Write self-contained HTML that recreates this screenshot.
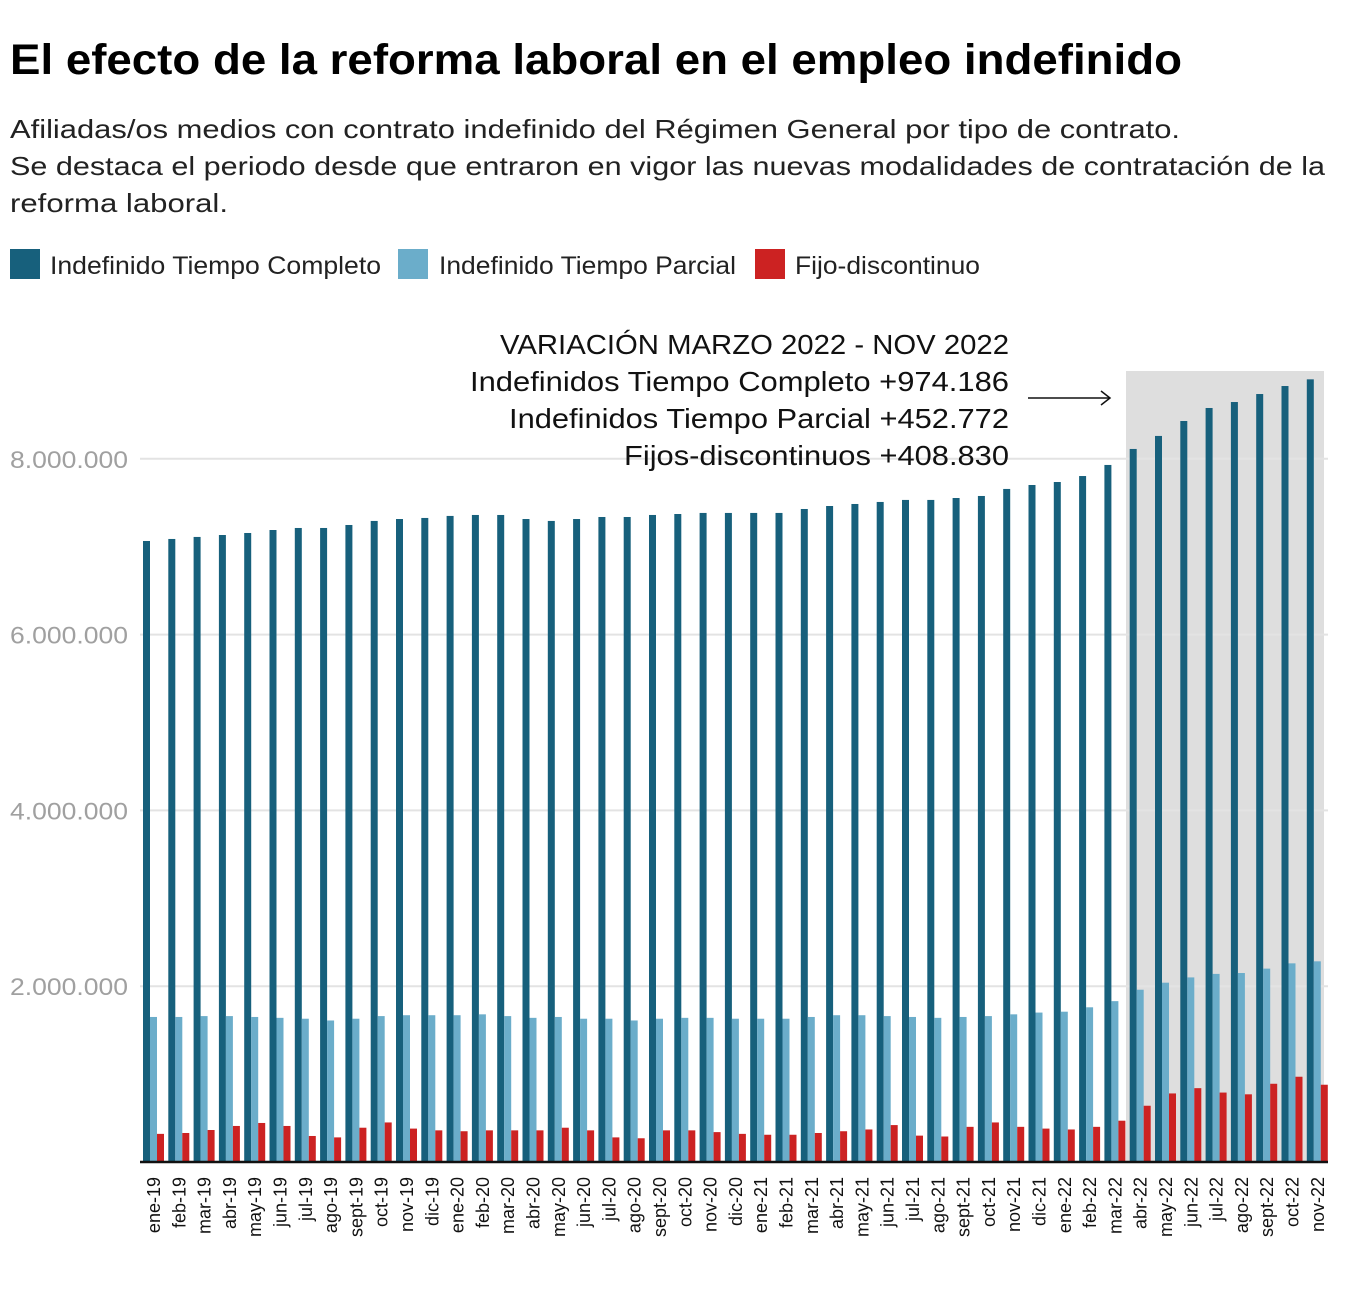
<!DOCTYPE html>
<html><head><meta charset="utf-8"><style>
body{margin:0;background:#fff}
svg{display:block;font-family:"Liberation Sans",sans-serif}
</style></head><body>
<svg id="chart" width="1348" height="1298" viewBox="0 0 1348 1298" xmlns="http://www.w3.org/2000/svg">
<text x="10" y="74" font-size="43" font-weight="bold" fill="#000" textLength="1172" lengthAdjust="spacingAndGlyphs">El efecto de la reforma laboral en el empleo indefinido</text>
<g font-size="26" fill="#222">
<text x="10" y="138" textLength="1170" lengthAdjust="spacingAndGlyphs">Afiliadas/os medios con contrato indefinido del Régimen General por tipo de contrato.</text>
<text x="10" y="175" textLength="1315" lengthAdjust="spacingAndGlyphs">Se destaca el periodo desde que entraron en vigor las nuevas modalidades de contratación de la</text>
<text x="10" y="212" textLength="218" lengthAdjust="spacingAndGlyphs">reforma laboral.</text>
</g>
<g font-size="25" fill="#222">
<rect x="10" y="249" width="30" height="30" fill="#17607c"/>
<text x="50" y="274" textLength="331" lengthAdjust="spacingAndGlyphs">Indefinido Tiempo Completo</text>
<rect x="398" y="249" width="30" height="30" fill="#6badca"/>
<text x="439" y="274" textLength="297" lengthAdjust="spacingAndGlyphs">Indefinido Tiempo Parcial</text>
<rect x="755" y="249" width="30" height="30" fill="#cc2222"/>
<text x="795" y="274" textLength="185" lengthAdjust="spacingAndGlyphs">Fijo-discontinuo</text>
</g>
<rect x="1126" y="371" width="198" height="791" fill="#dedede"/>
<g id="grid"></g>
<g id="bars"></g>
<g id="xlabels"></g>
<line x1="140" y1="1162" x2="1328" y2="1162" stroke="#111" stroke-width="2.5"/>
<g font-size="28" fill="#111">
<text x="500" y="354" textLength="509" lengthAdjust="spacingAndGlyphs">VARIACIÓN MARZO 2022 - NOV 2022</text>
<text x="470" y="391" textLength="539" lengthAdjust="spacingAndGlyphs">Indefinidos Tiempo Completo +974.186</text>
<text x="509" y="428" textLength="500" lengthAdjust="spacingAndGlyphs">Indefinidos Tiempo Parcial +452.772</text>
<text x="624" y="465" textLength="385" lengthAdjust="spacingAndGlyphs">Fijos-discontinuos +408.830</text>
</g>
<g stroke="#111" stroke-width="1.5" fill="none">
<line x1="1028" y1="398" x2="1110" y2="398"/>
<polyline points="1101,391 1110,398 1101,405"/>
</g>
</svg>
<script>
const months=["ene-19","feb-19","mar-19","abr-19","may-19","jun-19","jul-19","ago-19","sept-19","oct-19","nov-19","dic-19","ene-20","feb-20","mar-20","abr-20","may-20","jun-20","jul-20","ago-20","sept-20","oct-20","nov-20","dic-20","ene-21","feb-21","mar-21","abr-21","may-21","jun-21","jul-21","ago-21","sept-21","oct-21","nov-21","dic-21","ene-22","feb-22","mar-22","abr-22","may-22","jun-22","jul-22","ago-22","sept-22","oct-22","nov-22"];
const completo=[7065,7088,7111,7133,7156,7190,7213,7213,7247,7293,7315,7327,7350,7361,7361,7315,7293,7315,7338,7338,7361,7372,7384,7384,7384,7384,7429,7463,7486,7509,7532,7532,7554,7577,7657,7702,7736,7804,7930,8112,8260,8430,8578,8646,8737,8828,8904];
const parcial=[1650,1650,1660,1660,1650,1640,1630,1610,1630,1660,1670,1670,1670,1680,1660,1640,1650,1630,1630,1610,1630,1640,1640,1630,1630,1630,1650,1670,1670,1660,1650,1640,1650,1660,1680,1700,1710,1760,1830,1960,2040,2100,2140,2150,2200,2260,2283];
const fijo=[320,330,364,410,444,410,296,280,390,450,380,360,350,360,360,360,390,360,280,270,360,360,340,320,310,310,330,350,370,420,300,290,400,450,400,380,370,400,470,640,780,840,790,770,890,970,879];
const yTicks=[2000000,4000000,6000000,8000000];
const yTickLabels=["2.000.000","4.000.000","6.000.000","8.000.000"];
const NS="http://www.w3.org/2000/svg";
const y=v=>1162-v/2000000*175.8;
const x=i=>143+i*25.3;
const grid=document.getElementById('grid'),bars=document.getElementById('bars'),xl=document.getElementById('xlabels');
function mk(t,a,p){const e=document.createElementNS(NS,t);for(const k in a)e.setAttribute(k,a[k]);p.appendChild(e);return e;}
yTicks.forEach((v,i)=>{
 const l=mk('line',{x1:140,x2:1328,y1:y(v),y2:y(v),stroke:'#e3e3e3','stroke-width':2},grid);
 
 
 const t=mk('text',{x:10,y:y(v)+9,'font-size':24,fill:'#a0a0a0',textLength:118,lengthAdjust:'spacingAndGlyphs'},grid);
 
 
 t.textContent=yTickLabels[i];
});
const series=[[completo,'#17607c',0],[parcial,'#6badca',7],[fijo,'#cc2222',14]];
months.forEach((m,i)=>{
 series.forEach(([arr,c,off])=>{
  const v=arr[i]*1000;
  const r=mk('rect',{x:x(i)+off,y:y(v),width:7,height:1162-y(v),fill:c},bars);
  
  
 });
 const cx=x(i)+11;
 const t=mk('text',{x:0,y:0,'font-size':18,fill:'#111','text-anchor':'end',transform:`translate(${cx+6},1177) rotate(-90)`},xl);
 
 
 t.textContent=m;
});
</script>
</body></html>
